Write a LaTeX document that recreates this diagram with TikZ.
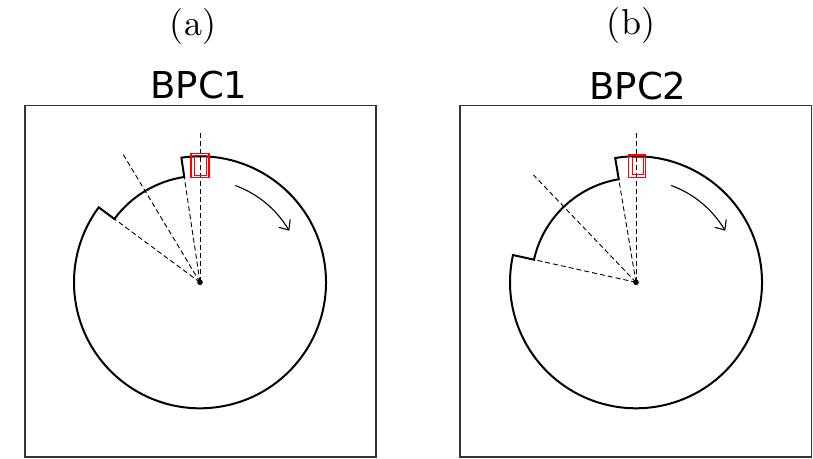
\documentclass[tikz,border=0pt]{standalone}
\usepackage{fontspec}
\newfontfamily\titlefont{DejaVu Sans}
\newfontfamily\panelfont{lmroman10-regular}[Extension=.otf]
\usetikzlibrary{arrows.meta,bending}

\begin{document}
\begin{tikzpicture}[x=1pt,y=1pt,
  frame/.style={draw=black!80,line width=1.1pt},
  ring/.style={line width=2pt,line join=miter},
  ray/.style={line width=0.9pt,dash pattern=on 5pt off 3pt},
  spin/.style={line width=1.1pt,-{Straight Barb[length=8pt,width=14pt,bend]}},
  window/.style={draw=red,line width=1.4pt}]

\useasboundingbox (0,0) rectangle (813,458);

% Panel (a)
\draw[frame] (25,1) rectangle (376,352.5);
\coordinate (ca) at (200,175.7);
\node (lbla) at (193,431) {\panelfont\fontsize{36}{42}\selectfont (a)};
\node[anchor=base] (titlea) at (199,359.5) {\titlefont\fontsize{37}{44}\selectfont BPC1};

\begin{scope}[shift={(ca)}]
% outline with notch
\draw[ring] (98.5:126) arc[start angle=98.5,end angle=-216.5,radius=126]
  -- (143.5:106.5) arc[start angle=143.5,end angle=98.5,radius=106.5] -- cycle;
% rays
\draw[ray] (0,0) -- (90:150);
\draw[ray] (0,0) -- (98.5:106.5);
\draw[ray] (0,0) -- (121:149);
\draw[ray] (0,0) -- (143.5:106.5);
\fill (0,0) circle[radius=2.8];
% rotation
\draw[spin] (70:103) arc[start angle=70,end angle=30,radius=103];
% window
\draw[window] (-9,104.6) rectangle (9,129);
\draw[red,line width=0.6pt] (-5.7,107) rectangle (6,126.5);
\end{scope}

% Panel (b)
\draw[frame] (460,1) rectangle (811.5,352.5);
\coordinate (cb) at (636,175.7);
\node (lblb) at (631,432.5) {\panelfont\fontsize{36}{42}\selectfont (b)};
\node[anchor=base] (titleb) at (638,358.5) {\titlefont\fontsize{37}{44}\selectfont BPC2};

\begin{scope}[shift={(cb)}]
% outline with notch
\draw[ring] (99.5:126) arc[start angle=99.5,end angle=-192.5,radius=126]
  -- (167.5:104.5) arc[start angle=167.5,end angle=99.5,radius=104.5] -- cycle;
% rays
\draw[ray] (0,0) -- (90:150);
\draw[ray] (0,0) -- (99.5:104.5);
\draw[ray] (0,0) -- (133.7:148.5);
\draw[ray] (0,0) -- (167.5:104.5);
\fill (0,0) circle[radius=2.8];
% rotation
\draw[spin] (70:103) arc[start angle=70,end angle=30,radius=103];
% window
\draw[window] (-7.7,105) rectangle (9.7,127.3);
\draw[red,line width=0.6pt] (-3.3,107.5) rectangle (7.2,125);
\end{scope}

\end{tikzpicture}
\end{document}
